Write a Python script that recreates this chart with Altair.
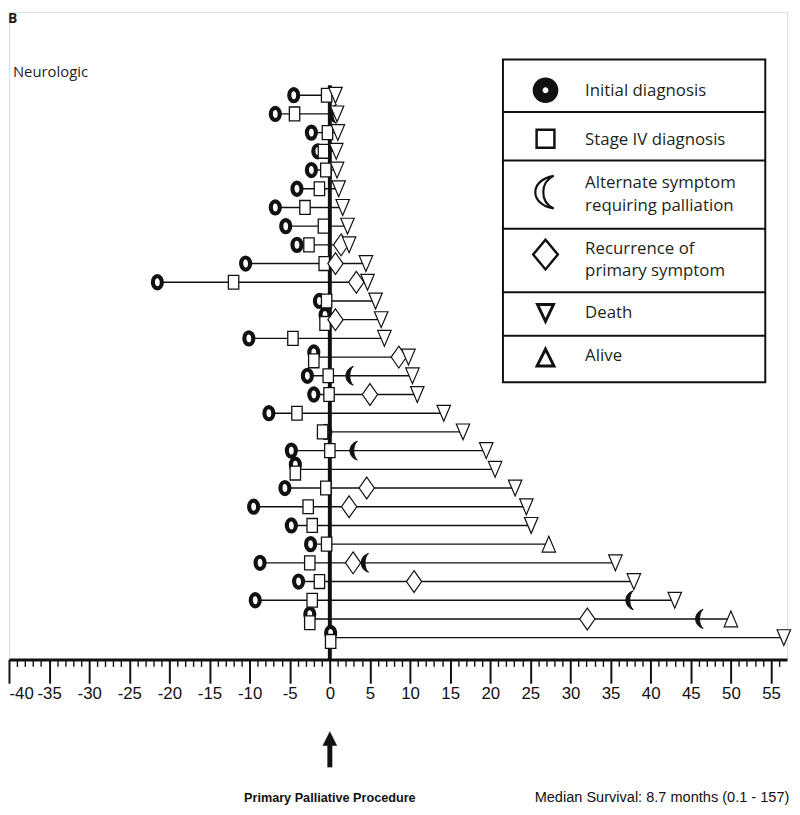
import altair as alt
import pandas as pd

# ---------------- data ----------------
rows = list(range(1, 31))
initial_dx = [-4.5, -6.8, -2.3, -1.5, -2.3, -4.1, -6.8, -5.5, -4.1, -10.5,
              -21.5, -1.3, -0.6, -10.1, -2.0, -2.8, -2.0, -7.6, -0.5, -4.8,
              -4.3, -5.6, -9.5, -4.8, -2.4, -8.7, -3.9, -9.3, -2.5, 0.1]
stage4_dx = [-0.4, -4.4, -0.3, -0.8, -0.5, -1.3, -3.1, -0.8, -2.6, -0.7,
             -12.0, -0.4, -0.6, -4.6, -2.0, -0.2, -0.1, -4.1, -0.9, 0.0,
             -4.3, -0.5, -2.7, -2.2, -0.4, -2.5, -1.3, -2.2, -2.5, 0.1]
end_time = [0.7, 0.9, 1.0, 0.8, 0.9, 1.1, 1.6, 2.2, 2.4, 4.5,
            4.7, 5.7, 6.4, 6.8, 9.8, 10.3, 10.9, 14.2, 16.6, 19.5,
            20.6, 23.1, 24.5, 25.1, 27.3, 35.6, 37.9, 43.0, 50.0, 56.6]
end_status = ["Death"] * 24 + ["Alive"] + ["Death"] * 3 + ["Alive"] + ["Death"]

alt_rows = [2, 16, 20, 26, 28, 29]
alt_time = [0.3, 2.4, 2.9, 4.3, 37.3, 46.0]
recur_rows = [9, 10, 11, 13, 15, 17, 22, 23, 26, 27, 29]
recur_time = [1.4, 0.7, 3.3, 0.7, 8.6, 5.0, 4.6, 2.4, 2.9, 10.5, 32.1]

minor_ticks = list(range(-40, 57))
major_labels = [-40, -35, -30, -25, -20, -15, -10, -5, 0, 5, 10, 15, 20, 25,
                30, 35, 40, 45, 50, 55]

legend_entries = ["Initial diagnosis", "Stage IV diagnosis",
                  "Alternate symptom\nrequiring palliation",
                  "Recurrence of\nprimary symptom", "Death", "Alive"]

panel_letter = "B"
panel_title = "Neurologic"
x_caption = "Primary Palliative Procedure"
survival_note = "Median Survival: 8.7 months (0.1 - 157)"

# ---------------- tables ----------------
pat = pd.DataFrame({"row": rows, "init": initial_dx, "stage": stage4_dx,
                    "t_end": end_time, "status": end_status})
pat["start"] = pat[["init", "stage"]].min(axis=1)
pat["stacked"] = (pat["init"] - pat["stage"]).abs() < 0.15
alt_df = pd.DataFrame({"row": alt_rows, "t": alt_time})
rec_df = pd.DataFrame({"row": recur_rows, "t": recur_time})
zero_df = pd.DataFrame({"t": [0]})

INK = "#111111"
TXT = "#231f20"
AXF = "Liberation Sans, Arial, sans-serif"
SANS = "Open Sans, Noto Sans, sans-serif"

W, H = 786, 654
xscale = alt.Scale(domain=[-40, 57], nice=False, zero=False)
yscale = alt.Scale(domain=[1, 30], range=[84, 632], nice=False, zero=False)

major_set = "[" + ",".join(str(v) for v in major_labels) + "]"
is_major = f"indexof({major_set}, datum.value) >= 0"
xaxis = alt.Axis(
    values=minor_ticks,
    labelExpr=f"{is_major} ? '' + datum.value : ''",
    tickSize=alt.condition(is_major, alt.value(24), alt.value(7)),
    tickWidth=alt.condition(is_major, alt.value(2), alt.value(1.4)),
    tickColor=INK, domainColor=INK, domainWidth=3,
    labelFont=AXF, labelFontSize=17, labelColor=INK,
    labelPadding=2, labelFlush=True, labelOverlap=False,
    grid=False, title="",
)


def X(field):
    return alt.X(field, type="quantitative", scale=xscale, axis=xaxis)


def Y(field):
    return alt.Y(field, type="quantitative", scale=yscale, axis=None)


def shape_layer(df, field, yfield, shape, size, fill, stroke, sw, calc=None):
    base = alt.Chart(df)
    if calc:
        base = base.transform_calculate(**calc)
    return base.mark_point(shape=shape, size=size, filled=True, fill=fill,
                           stroke=stroke, strokeWidth=sw, opacity=1).encode(
        x=X(field), y=Y(yfield))


def ellipse(a):
    k = 0.5523
    return (f"M0,-1 C{a*k:.3f},-1 {a:.3f},-{k} {a:.3f},0 "
            f"C{a:.3f},{k} {a*k:.3f},1 0,1 "
            f"C-{a*k:.3f},1 -{a:.3f},{k} -{a:.3f},0 "
            f"C-{a:.3f},-{k} -{a*k:.3f},-1 0,-1 Z")


RECT = "M-0.75,-1H0.75V1H-0.75Z"
DIAM = "M0,-1L0.7,0L0,1L-0.7,0Z"
TDOWN = "M-0.85,-1L0.85,-1L0,1Z"
TUP = "M0,-1L0.85,1L-0.85,1Z"
MOON = "M0.45,-1 C-0.6,-0.7 -0.6,0.7 0.45,1 C-0.05,0.6 -0.05,-0.6 0.45,-1 Z"
MOON_L = "M0.5,-1 C-1.0,-0.75 -1.0,0.75 0.5,1 C-0.35,0.6 -0.35,-0.6 0.5,-1 Z"

# ---------------- plot layers ----------------
lines = alt.Chart(pat).mark_rule(color=INK, strokeWidth=1.4).encode(
    x=X("start"), x2="t_end:Q", y=Y("row"))

zero_line = alt.Chart(zero_df).mark_rule(color=INK, strokeWidth=4).encode(
    x=X("t"), y=alt.value(74), y2=alt.value(H))

circles = shape_layer(pat, "init", "yy", ellipse(0.74), 150, "white", INK, 4.2,
                      calc={"yy": "datum.stacked ? datum.row - 0.25 : datum.row"})
squares = shape_layer(pat, "stage", "yy", RECT, 196, "white", INK, 1.3,
                      calc={"yy": "datum.stacked ? datum.row + 0.2 : datum.row"})
diamonds = shape_layer(rec_df, "t", "row", DIAM, 484, "white", INK, 1.2)
moons = shape_layer(alt_df, "t", "row", MOON, 361, INK, INK, 1)
deaths = shape_layer(pat[pat.status == "Death"], "t_end", "row", TDOWN, 256,
                     "white", INK, 1.2)
alives = shape_layer(pat[pat.status == "Alive"], "t_end", "row", TUP, 256,
                     "white", INK, 1.2)

# arrow under the zero point
arrow_shaft = alt.Chart(zero_df).mark_rule(color=INK, strokeWidth=5).encode(
    x=X("t"), y=alt.value(738), y2=alt.value(763))
arrow_head = alt.Chart(zero_df).mark_point(
    shape="M0,-1L1,1L-1,1Z", size=196, filled=True, fill=INK, stroke=INK,
    strokeWidth=0.5, opacity=1).encode(x=X("t"), y=alt.value(734))

# ---------------- legend (framed box, top right) ----------------
LX0, LX1, LY0, LY1 = 499, 764, 48, 374
dividers = [101, 150, 219, 283, 327]
sym_x, txt_x = 542, 582
sym_y = [79, 128, 182, 245, 304, 349]
line_y = [[80], [129], [173, 196], [239, 262], [304], [348]]

box = alt.Chart(pd.DataFrame({"k": [0]})).mark_rect(
    fill="white", stroke=INK, strokeWidth=2).encode(
    x=alt.value(LX0), x2=alt.value(LX1), y=alt.value(LY0), y2=alt.value(LY1))
div_df = pd.DataFrame({"py": dividers})
divs = alt.Chart(div_df).mark_rule(color=INK, strokeWidth=2).encode(
    x=alt.value(LX0), x2=alt.value(LX1), y=alt.Y("py:Q", scale=None))

leg_txt = []
for lab, ys in zip(legend_entries, line_y):
    for part, yy in zip(lab.split("\n"), ys):
        leg_txt.append({"label": part, "py": yy})
leg_text = alt.Chart(pd.DataFrame(leg_txt)).mark_text(
    align="left", baseline="middle", font=SANS, fontSize=17, color=TXT).encode(
    x=alt.value(txt_x), y=alt.Y("py:Q", scale=None), text="label:N")

leg_specs = [
    ("circle", 254, "white", 10),
    ("square", 324, "white", 2.5),
    (MOON_L, 1089, "white", 2.2),
    ("M0,-1L0.83,0L0,1L-0.83,0Z", 900, "white", 2.5),
    ("M-0.95,-1L0.95,-1L0,1Z", 289, "white", 3),
    ("M0,-1L1,1L-1,1Z", 289, "white", 3),
]
leg_syms = []
for (shp, sz, fl, sw), yy, lab in zip(leg_specs, sym_y, legend_entries):
    leg_syms.append(
        alt.Chart(pd.DataFrame({"entry": [lab], "py": [yy]})).mark_point(
            shape=shp, size=sz, filled=True, fill=fl, stroke=INK,
            strokeWidth=sw, opacity=1).encode(
            x=alt.value(sym_x), y=alt.Y("py:Q", scale=None)))

# ---------------- free texts ----------------
def label(text, x, y, **kw):
    return alt.Chart(pd.DataFrame({"label": [text]})).mark_text(**kw).encode(
        x=alt.value(x), y=alt.value(y), text="label:N")


t_letter = label(panel_letter, -1, 0, align="left", baseline="top",
                 font=SANS, fontSize=14, fontWeight="bold", color=TXT)
t_title = label(panel_title, 4, 61, align="left", baseline="middle",
                font=SANS, fontSize=15, color=TXT)
t_caption = alt.Chart(pd.DataFrame({"label": [x_caption], "t": [0]})).mark_text(
    align="center", baseline="middle", font=AXF, fontSize=12.8,
    fontWeight="bold", color=INK).encode(x=X("t"), y=alt.value(794),
                                         text="label:N")
t_note = label(survival_note, 531, 794, align="left", baseline="middle",
               font=AXF, fontSize=14.7, color=INK)

chart = alt.layer(
    lines, zero_line, circles, squares, diamonds, moons, deaths, alives,
    arrow_shaft, arrow_head, box, divs, *leg_syms, leg_text,
    t_letter, t_title, t_caption, t_note,
).properties(
    width=W, height=H,
    padding={"left": 1, "top": 0, "right": 5, "bottom": 149},
    autosize=alt.AutoSizeParams(type="none"),
).configure_view(stroke=None).configure(background="white")

chart.save("out.html", embed_options={"renderer": "svg", "actions": False})
